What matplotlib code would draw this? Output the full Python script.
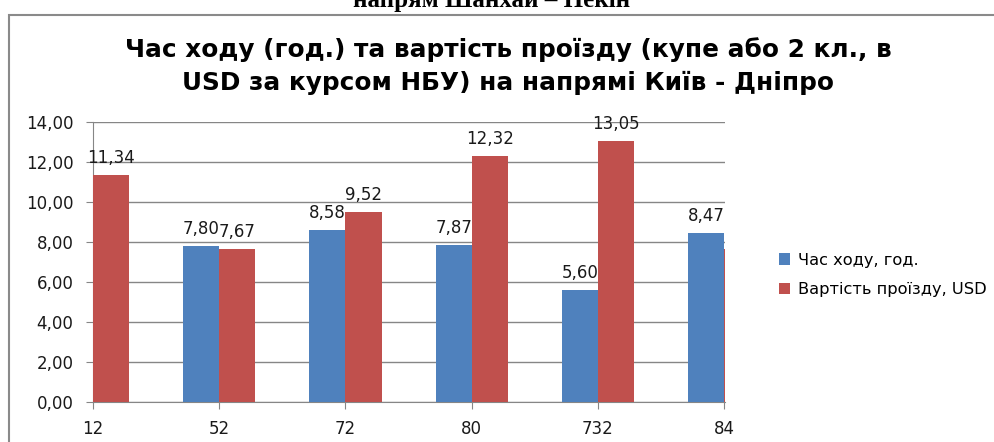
import numpy as np
import matplotlib.pyplot as plt
from matplotlib.patches import Rectangle

# Дані з діаграми (маршрути і значення)
routes = ['12', '52', '72', '80', '732', '84']
hours = [np.nan, 7.80, 8.58, 7.87, 5.60, 8.47]        # перший стовпчик прихований за віссю
price_usd = [11.34, 7.67, 9.52, 12.32, 13.05, 7.65]   # останній обрізаний краєм
y_ticks = [0, 2, 4, 6, 8, 10, 12, 14]

title_1 = 'Час ходу (год.) та вартість проїзду (купе або 2 кл., в'
title_2 = 'USD за курсом НБУ) на напрямі Київ - Дніпро'
top_caption = 'напрям Шанхай – Пекін'

blue = '#4F81BD'
red = '#C0504D'
grey = '#868686'

W, H = 994, 442
fig = plt.figure(figsize=(W / 100, H / 100), dpi=100)

# рамка діаграми (виходить за межі картинки праворуч і знизу)
fig.patches.append(Rectangle((9 / W, -0.1), 1.2, 1 - 15 / H + 0.1,
                             transform=fig.transFigure, fill=False,
                             ec='#8a8a8a', lw=1.5))

ax = fig.add_axes([93 / W, 1 - 402 / H, (725 - 93) / W, (402 - 122) / H])

x = np.arange(len(routes))
w = 1 / 3.5
bars_h = ax.bar(x - w / 2, hours, w, color=blue, label='Час ходу, год.', zorder=3)
bars_p = ax.bar(x + w / 2, price_usd, w, color=red, label='Вартість проїзду, USD', zorder=3)

ax.set_xlim(0, 5.006)
ax.set_ylim(0, 14)
ax.set_xticks(x)
ax.set_xticklabels(routes)
ax.set_yticks(y_ticks)
ax.set_yticklabels([f'{v:.2f}'.replace('.', ',') for v in y_ticks])

ax.yaxis.grid(True, color=grey, lw=1)
ax.set_axisbelow(True)
for s in ['top', 'right']:
    ax.spines[s].set_visible(False)
for s in ['left', 'bottom']:
    ax.spines[s].set_color(grey)
ax.tick_params(axis='both', colors=grey, labelcolor='#1a1a1a', labelsize=12, length=5)
ax.tick_params(axis='y', pad=9)
ax.tick_params(axis='x', pad=8)

# підписи значень над стовпчиками (тільки видимі)
lo, hi = ax.get_xlim()
for bars in (bars_h, bars_p):
    for r in bars:
        v = r.get_height()
        cx = r.get_x() + r.get_width() / 2
        if np.isnan(v) or cx < lo or cx > hi:
            continue
        ax.annotate(f'{v:.2f}'.replace('.', ','), (cx, v), xytext=(0, 12),
                    textcoords='offset pixels', ha='center', va='baseline',
                    fontsize=12, color='#1a1a1a', zorder=4)

fig.legend(loc='center left', bbox_to_anchor=(764 / W, 1 - 275 / H),
           frameon=False, fontsize=11.7, handlelength=0.7, handleheight=0.7,
           handletextpad=0.5, labelspacing=0.9)

fig.text(508 / W, 1 - 57 / H, title_1, ha='center', va='baseline',
         fontsize=17.8, fontweight='bold', family='DejaVu Sans')
fig.text(508 / W, 1 - 90 / H, title_2, ha='center', va='baseline',
         fontsize=17.8, fontweight='bold', family='DejaVu Sans')

fig.text(492 / W, 1 - 7 / H, top_caption, ha='center', va='baseline',
         fontsize=18, fontweight='bold', family='Liberation Serif')

fig.savefig('out.png', dpi=100)
